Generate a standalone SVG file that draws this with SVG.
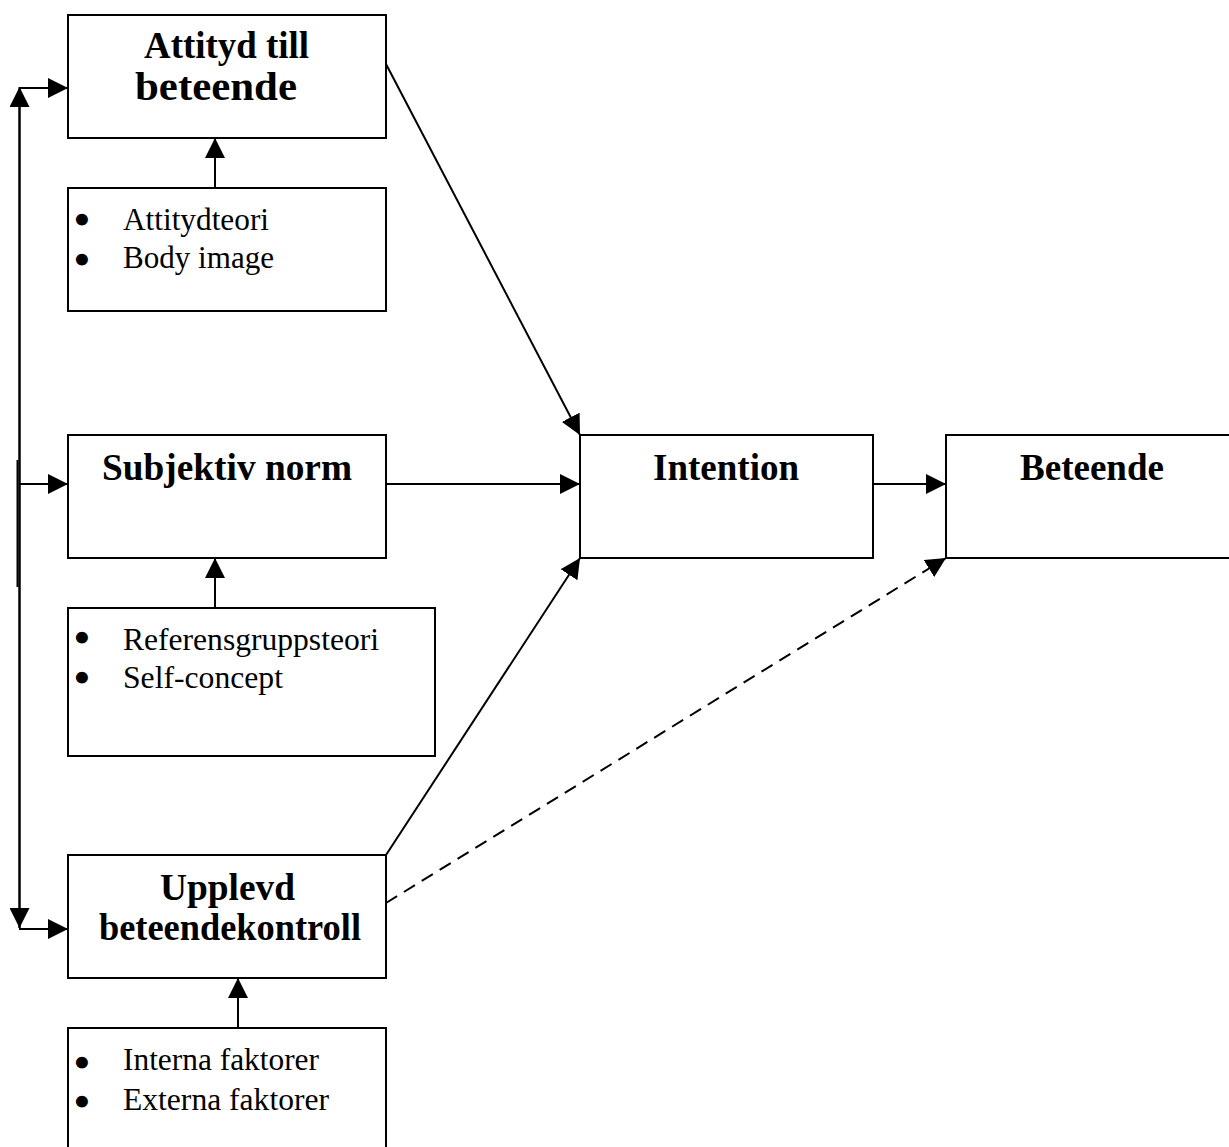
<svg xmlns="http://www.w3.org/2000/svg" width="1229" height="1147" viewBox="0 0 1229 1147">
<style>
  .box { fill: #ffffff; stroke: #000000; stroke-width: 2; }
  .title { font-family: "Liberation Serif", "Times New Roman", serif; font-weight: bold; font-size: 37px; fill: #000000; }
  .item { font-family: "Liberation Serif", "Times New Roman", serif; font-size: 31px; fill: #000000; }
  .bullet { font-family: "DejaVu Sans", sans-serif; font-size: 31px; fill: #000000; stroke: #000000; stroke-width: 3; text-anchor: middle; }
  .line { fill: none; stroke: #000000; stroke-width: 2; }
  .dashed { fill: none; stroke: #000000; stroke-width: 2; stroke-dasharray: 13 8; }
</style>
<defs>
  <marker id="ah" markerWidth="20" markerHeight="20" refX="20" refY="10" orient="auto" markerUnits="userSpaceOnUse">
    <path d="M0,0 L20,10 L0,20 Z" fill="#000000"/>
  </marker>
</defs>
<rect x="0" y="0" width="1229" height="1147" fill="#ffffff"/>

<g id="connectors">
  <line class="line" x1="19.5" y1="89" x2="19.5" y2="928" marker-end="url(#ah)"/>
  <line class="line" x1="19.5" y1="928" x2="19.5" y2="87" marker-end="url(#ah)"/>
  <line class="line" x1="17.5" y1="460" x2="17.5" y2="587"/>
  <line class="line" x1="19" y1="88" x2="68" y2="88" marker-end="url(#ah)"/>
  <line class="line" x1="19" y1="484" x2="68" y2="484" marker-end="url(#ah)"/>
  <line class="line" x1="19" y1="929" x2="68" y2="929" marker-end="url(#ah)"/>
  <line class="line" x1="215" y1="188" x2="215" y2="138" marker-end="url(#ah)"/>
  <line class="line" x1="215" y1="608" x2="215" y2="558" marker-end="url(#ah)"/>
  <line class="line" x1="238" y1="1028" x2="238" y2="978" marker-end="url(#ah)"/>
  <line class="line" x1="386" y1="64" x2="580" y2="435" marker-end="url(#ah)"/>
  <line class="line" x1="386" y1="484" x2="580" y2="484" marker-end="url(#ah)"/>
  <line class="line" x1="386" y1="855" x2="580" y2="558" marker-end="url(#ah)"/>
  <line class="line" x1="873" y1="484" x2="946" y2="484" marker-end="url(#ah)"/>
  <line class="dashed" x1="386" y1="903" x2="946" y2="558" marker-end="url(#ah)"/>
</g>

<g id="attityd">
  <rect class="box" x="68" y="15" width="318" height="123"/>
  <text class="title" x="144" y="58" textLength="165" lengthAdjust="spacingAndGlyphs">Attityd till</text>
  <text class="title" x="135" y="100" font-size="40" style="font-size:40px" textLength="162" lengthAdjust="spacingAndGlyphs">beteende</text>
</g>

<g id="attityd-faktorer">
  <rect class="box" x="68" y="188" width="318" height="123"/>
  <text class="bullet" x="82" y="231">•</text>
  <text class="item" x="123" y="230" textLength="146" lengthAdjust="spacingAndGlyphs">Attitydteori</text>
  <text class="bullet" x="82" y="271">•</text>
  <text class="item" x="123" y="268" textLength="151" lengthAdjust="spacingAndGlyphs">Body image</text>
</g>

<g id="subjektiv">
  <rect class="box" x="68" y="435" width="318" height="123"/>
  <text class="title" x="102" y="480" textLength="250" lengthAdjust="spacingAndGlyphs">Subjektiv norm</text>
</g>

<g id="subjektiv-faktorer">
  <rect class="box" x="68" y="608" width="367" height="148"/>
  <text class="bullet" x="82" y="649">•</text>
  <text class="item" x="123" y="650" textLength="256" lengthAdjust="spacingAndGlyphs">Referensgruppsteori</text>
  <text class="bullet" x="82" y="689">•</text>
  <text class="item" x="123" y="688" textLength="160" lengthAdjust="spacingAndGlyphs">Self-concept</text>
</g>

<g id="upplevd">
  <rect class="box" x="68" y="855" width="318" height="123"/>
  <text class="title" x="160" y="900" textLength="135" lengthAdjust="spacingAndGlyphs">Upplevd</text>
  <text class="title" x="99" y="940" textLength="262" lengthAdjust="spacingAndGlyphs">beteendekontroll</text>
</g>

<g id="upplevd-faktorer">
  <rect class="box" x="68" y="1028" width="318" height="140"/>
  <text class="bullet" x="82" y="1074">•</text>
  <text class="item" x="123" y="1070" textLength="196" lengthAdjust="spacingAndGlyphs">Interna faktorer</text>
  <text class="bullet" x="82" y="1113">•</text>
  <text class="item" x="123" y="1110" textLength="206" lengthAdjust="spacingAndGlyphs">Externa faktorer</text>
</g>

<g id="intention">
  <rect class="box" x="580" y="435" width="293" height="123"/>
  <text class="title" x="653" y="480" textLength="146" lengthAdjust="spacingAndGlyphs">Intention</text>
</g>

<g id="beteende">
  <rect class="box" x="946" y="435" width="300" height="123"/>
  <text class="title" x="1020" y="480" textLength="144" lengthAdjust="spacingAndGlyphs">Beteende</text>
</g>
</svg>
